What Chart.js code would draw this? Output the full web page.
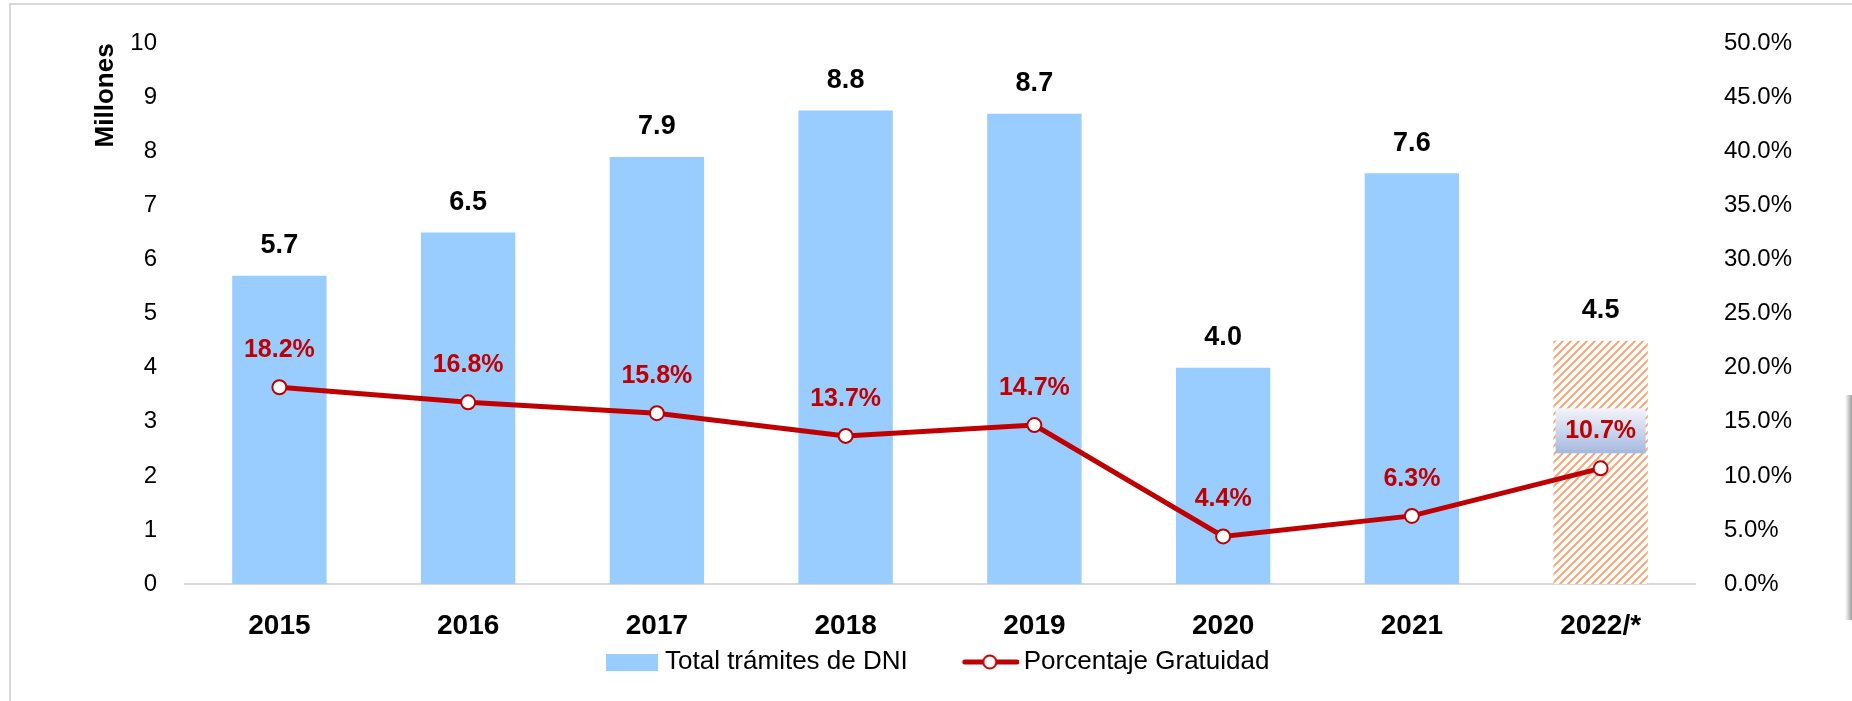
<!DOCTYPE html>
<html>
<head>
<meta charset="utf-8">
<script src="https://cdn.jsdelivr.net/npm/chart.js@4.4.1/dist/chart.umd.min.js"></script>
<style>
    html, body { margin: 0; padding: 0; background: #fff; }
    #wrap { position: relative; width: 1852px; height: 701px; overflow: hidden; }
    #marco { position: absolute; left: 9px; top: 3px; right: -4px; bottom: -4px; border-left: 2px solid #d9d9d9; border-top: 2px solid #d9d9d9; pointer-events: none; }
    #sombra { position: absolute; left: 1845px; top: 395px; width: 7px; height: 225px; background: linear-gradient(to right, #fff, #d0d0d0, #9a9a9a); }
</style>
</head>
<body>
<div id="wrap">
    <canvas id="grafico-dni" width="1852" height="701"></canvas>
    <div id="marco"></div>
    <div id="sombra"></div>
</div>
<script>
// Datos
const anos = ['2015', '2016', '2017', '2018', '2019', '2020', '2021', '2022/*'];
const tramites = [5.7, 6.5, 7.9, 8.76, 8.7, 4.0, 7.6, 4.5];      // millones
const gratuidad = [18.2, 16.8, 15.8, 13.7, 14.7, 4.4, 6.3, 10.7]; // %
const leyendas = ['Total trámites de DNI', 'Porcentaje Gratuidad'];

const FUENTE = '"Liberation Sans", Arial, sans-serif';
const AZUL = '#99CCFF';
const ROJO = '#C00000';

Chart.defaults.font.family = FUENTE;
Chart.defaults.color = '#000';

// trama rayada naranja para 2022
function crearTrama() {
    let c = document.createElement('canvas');
    c.width = 8; c.height = 8;
    let g = c.getContext('2d');
    g.fillStyle = '#fff';
    g.fillRect(0, 0, 8, 8);
    g.strokeStyle = 'rgb(248,168,120)';
    g.lineWidth = 2;
    g.beginPath();
    g.moveTo(-2, 10); g.lineTo(10, -2);
    g.moveTo(-2, 2); g.lineTo(2, -2);
    g.moveTo(6, 10); g.lineTo(10, 6);
    g.stroke();
    return g.createPattern(c, 'repeat');
}
const trama = crearTrama();
const coloresBarras = tramites.map((v, i) => i === tramites.length - 1 ? trama : AZUL);

// iconos de la leyenda (el contenido va a la derecha del lienzo para acercarlo al texto)
function iconoBarra() {
    let c = document.createElement('canvas');
    c.width = 72; c.height = 17;
    let g = c.getContext('2d');
    g.fillStyle = AZUL;
    g.fillRect(20, 0, 52, 17);
    return c;
}
function iconoLinea() {
    let c = document.createElement('canvas');
    c.width = 76; c.height = 18;
    let g = c.getContext('2d');
    g.strokeStyle = ROJO;
    g.lineWidth = 5;
    g.lineCap = 'round';
    g.beginPath(); g.moveTo(22, 9); g.lineTo(74, 9); g.stroke();
    g.beginPath(); g.arc(47, 9, 6.5, 0, Math.PI * 2);
    g.fillStyle = '#fff'; g.fill();
    g.lineWidth = 2; g.stroke();
    return c;
}

// etiquetas de datos
const etiquetas = {
    id: 'etiquetas',
    afterDatasetsDraw(chart) {
        const ctx = chart.ctx;
        ctx.save();
        ctx.textAlign = 'center';
        ctx.textBaseline = 'middle';

        ctx.font = 'bold 27px ' + FUENTE;
        ctx.fillStyle = '#000';
        chart.getDatasetMeta(0).data.forEach((bar, i) => {
            ctx.fillText(tramites[i].toFixed(1), bar.x, bar.y - 30);
        });

        ctx.font = 'bold 25px ' + FUENTE;
        chart.getDatasetMeta(1).data.forEach((pt, i) => {
            const y = pt.y - 37;
            if (i === gratuidad.length - 1) {
                // caja con degradado del ultimo valor
                let grad = ctx.createLinearGradient(0, y - 23, 0, y + 22);
                grad.addColorStop(0, '#F2F4FA');
                grad.addColorStop(1, '#A4B9DF');
                ctx.fillStyle = grad;
                ctx.fillRect(pt.x - 45, y - 23, 90, 45);
            }
            ctx.fillStyle = ROJO;
            ctx.fillText(gratuidad[i].toFixed(1) + '%', pt.x, y);
        });
        ctx.restore();
    }
};

// recoloca la leyenda justo debajo de las etiquetas del eje
const moverLeyenda = {
    id: 'moverLeyenda',
    afterLayout(chart) {
        const lg = chart.legend;
        if (!lg || !lg.lineWidths) return;
        const p = lg.options.labels.padding;
        const actual = (lg.left + p + lg.right - lg.lineWidths[0]) / 2;
        const dx = 592 - actual;
        lg.left += dx;
        lg.right += dx;
        const centro = lg.top + p + lg.options.labels.font.size / 2;
        lg.top -= centro - 662;
        lg.bottom = chart.height;
    }
};

const config = {
    type: 'bar',
    data: {
        labels: anos,
        datasets: [{
            type: 'bar',
            label: leyendas[0],
            data: tramites,
            backgroundColor: coloresBarras,
            barPercentage: 0.5,
            categoryPercentage: 1.0,
            yAxisID: 'y',
            order: 2
        }, {
            type: 'line',
            label: leyendas[1],
            data: gratuidad,
            borderColor: ROJO,
            borderWidth: 5,
            pointRadius: 7,
            pointBackgroundColor: '#fff',
            pointBorderColor: ROJO,
            pointBorderWidth: 2,
            tension: 0,
            yAxisID: 'y1',
            order: 1
        }]
    },
    options: {
        responsive: false,
        animation: false,
        layout: { padding: { left: 86, right: 0, top: 39, bottom: 0 } },
        scales: {
            x: {
                grid: { display: false, drawTicks: false },
                border: { display: true, color: '#D9D9D9', width: 2 },
                ticks: { padding: 25, font: { size: 28, weight: 'bold' }, color: '#000' },
                afterFit: (s) => { s.height = 62; }
            },
            y: {
                position: 'left',
                min: 0, max: 10,
                grid: { display: false, drawTicks: false },
                border: { display: false },
                ticks: { stepSize: 1, padding: 28, font: { size: 24 }, color: '#000' },
                title: { display: true, text: 'Millones', align: 'end', font: { size: 26, weight: 'bold' }, color: '#000' },
                afterFit: (s) => { s.width = 99; }
            },
            y1: {
                position: 'right',
                min: 0, max: 50,
                grid: { display: false, drawTicks: false },
                border: { display: false },
                ticks: {
                    stepSize: 5, padding: 29, font: { size: 24 }, color: '#000',
                    callback: (v) => v.toFixed(1) + '%'
                },
                afterFit: (s) => { s.width = 157; }
            }
        },
        plugins: {
            tooltip: { enabled: false },
            legend: {
                position: 'bottom',
                maxHeight: 55,
                labels: {
                    usePointStyle: true,
                    pointStyleWidth: 60,
                    padding: 43,
                    color: '#000',
                    font: { size: 26 },
                    generateLabels: () => [
                        { text: leyendas[0], pointStyle: iconoBarra(), datasetIndex: 0, lineWidth: 0, hidden: false, fontColor: '#000' },
                        { text: leyendas[1], pointStyle: iconoLinea(), datasetIndex: 1, lineWidth: 0, hidden: false, fontColor: '#000' }
                    ]
                }
            }
        }
    },
    plugins: [etiquetas, moverLeyenda]
};

var ctx = document.getElementById('grafico-dni').getContext('2d');
var graficoDni = new Chart(ctx, config);
</script>
</body>
</html>
